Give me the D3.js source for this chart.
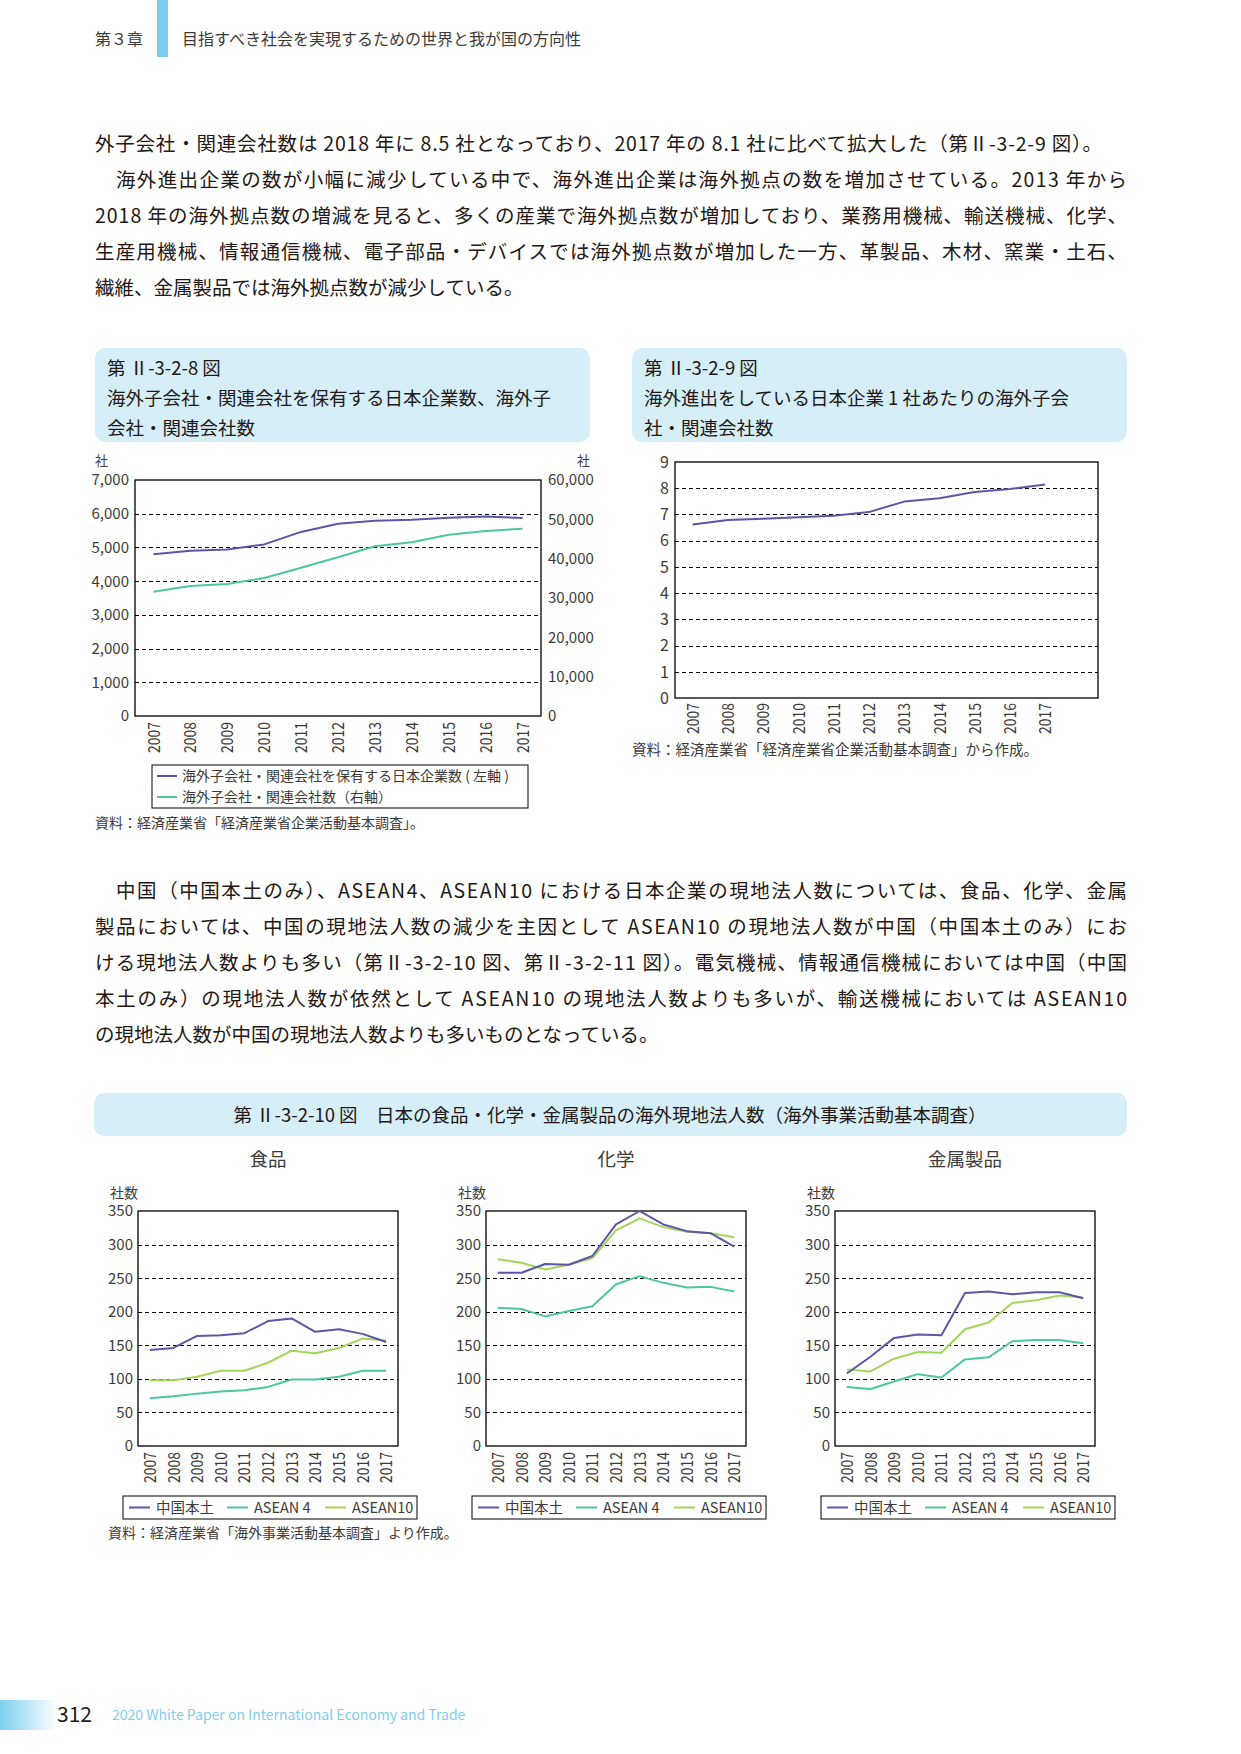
<!DOCTYPE html>
<html>
<head>
<meta charset="utf-8">
<script src="https://cdn.jsdelivr.net/npm/d3@7"></script>
<style>
body { margin: 0; background: #fff; }
svg text { font-family: "Noto Sans CJK JP", "Noto Sans", sans-serif; }
</style>
</head>
<body>
<svg id="page" width="1241" height="1754"></svg>
<script>
// data
var years = [2007, 2008, 2009, 2010, 2011, 2012, 2013, 2014, 2015, 2016, 2017];

// 第II-3-2-8図 (左軸: 企業数, 右軸: 海外子会社・関連会社数)
var fig8Firms = [4800, 4900, 4940, 5090, 5460, 5700, 5790, 5820, 5880, 5920, 5870];
var fig8Affiliates = [31600, 33050, 33560, 35090, 37710, 40340, 43140, 44150, 46100, 47030, 47630];

// 第II-3-2-9図
var fig9PerFirm = [6.62, 6.79, 6.84, 6.89, 6.95, 7.09, 7.49, 7.62, 7.86, 7.97, 8.14];

// 第II-3-2-10図
var foodChina   = [143, 146, 164, 165, 168, 186, 190, 170, 174, 167, 155];
var foodAsean4  = [71, 74, 78, 81, 83, 88, 99, 99, 103, 112, 112];
var foodAsean10 = [98, 98, 103, 112, 112, 124, 142, 138, 146, 160, 157];
var chemChina   = [258, 258, 271, 270, 283, 330, 350, 330, 320, 317, 297];
var chemAsean4  = [206, 204, 193, 201, 208, 241, 253, 243, 236, 237, 230];
var chemAsean10 = [278, 273, 263, 270, 280, 321, 339, 326, 319, 317, 311];
var metalChina   = [108, 133, 161, 166, 165, 228, 230, 226, 229, 229, 220];
var metalAsean4  = [88, 85, 96, 107, 102, 129, 132, 156, 158, 158, 153];
var metalAsean10 = [114, 111, 130, 140, 139, 174, 184, 213, 217, 224, 221];

var seriesNames = ["中国本土", "ASEAN 4", "ASEAN10"];

var purple = "#5b56a6", teal = "#4fc6a2", lime = "#a2d65a";
var ink = "#231815", gray = "#3e3a39";

var svg = d3.select("#page");
svg.append("rect").attr("width", 1241).attr("height", 1754).attr("fill", "#fff");

// header
svg.append("rect").attr("x", 157).attr("y", 0).attr("width", 11).attr("height", 57).attr("fill", "#7ccfee");
svg.append("text").attr("x", 95).attr("y", 45).attr("font-size", 16).attr("fill", gray).text("第３章");
svg.append("text").attr("x", 182).attr("y", 45).attr("font-size", 16).attr("fill", gray)
    .text("目指すべき社会を実現するための世界と我が国の方向性");

// body text
function paragraph(lines, y0) {
    lines.forEach(function(l, i) {
        var t = svg.append("text")
            .attr("x", l.x)
            .attr("y", y0 + i * 36)
            .attr("font-size", 19.5)
            .attr("fill", ink)
            .text(l.t);
        if (l.w) t.attr("textLength", l.w).attr("lengthAdjust", "spacing");
    });
}

paragraph([
    {x: 95, w: 1007, t: "外子会社・関連会社数は 2018 年に 8.5 社となっており、2017 年の 8.1 社に比べて拡大した（第Ⅱ-3-2-9 図）。"},
    {x: 116, w: 1011, t: "海外進出企業の数が小幅に減少している中で、海外進出企業は海外拠点の数を増加させている。2013 年から"},
    {x: 95, w: 1032, t: "2018 年の海外拠点数の増減を見ると、多くの産業で海外拠点数が増加しており、業務用機械、輸送機械、化学、"},
    {x: 95, w: 1032, t: "生産用機械、情報通信機械、電子部品・デバイスでは海外拠点数が増加した一方、革製品、木材、窯業・土石、"},
    {x: 95, t: "繊維、金属製品では海外拠点数が減少している。"}
], 151);

paragraph([
    {x: 116, w: 1011, t: "中国（中国本土のみ）、ASEAN4、ASEAN10 における日本企業の現地法人数については、食品、化学、金属"},
    {x: 95, w: 1032, t: "製品においては、中国の現地法人数の減少を主因として ASEAN10 の現地法人数が中国（中国本土のみ）にお"},
    {x: 95, w: 1032, t: "ける現地法人数よりも多い（第Ⅱ-3-2-10 図、第Ⅱ-3-2-11 図）。電気機械、情報通信機械においては中国（中国"},
    {x: 95, w: 1032, t: "本土のみ）の現地法人数が依然として ASEAN10 の現地法人数よりも多いが、輸送機械においては ASEAN10"},
    {x: 95, t: "の現地法人数が中国の現地法人数よりも多いものとなっている。"}
], 898);

// title boxes
function titleBox(x, y, w, h, lines, tx) {
    svg.append("rect").attr("x", x).attr("y", y).attr("width", w).attr("height", h)
        .attr("rx", 10).attr("fill", "#d5eef8");
    lines.forEach(function(t, i) {
        svg.append("text").attr("x", tx).attr("y", y + 27 + i * 30)
            .attr("font-size", 18.5).attr("fill", ink).text(t);
    });
}
titleBox(95, 348, 495, 94, ["第 Ⅱ-3-2-8 図", "海外子会社・関連会社を保有する日本企業数、海外子", "会社・関連会社数"], 107);
titleBox(632, 348, 495, 94, ["第 Ⅱ-3-2-9 図", "海外進出をしている日本企業 1 社あたりの海外子会", "社・関連会社数"], 644);

svg.append("rect").attr("x", 94).attr("y", 1093).attr("width", 1033).attr("height", 43)
    .attr("rx", 10).attr("fill", "#d5eef8");
svg.append("text").attr("x", 610).attr("y", 1122).attr("text-anchor", "middle")
    .attr("font-size", 18.5).attr("fill", ink)
    .text("第 Ⅱ-3-2-10 図　日本の食品・化学・金属製品の海外現地法人数（海外事業活動基本調査）");

// helpers
function frame(g, x0, x1, y0, y1) {
    g.append("rect").attr("x", x0).attr("y", y0).attr("width", x1 - x0).attr("height", y1 - y0)
        .attr("fill", "none").attr("stroke", "#000").attr("stroke-width", 1.3);
}

function grid(g, y, ticks, x0, x1) {
    g.selectAll(null).data(ticks).enter().append("line")
        .attr("x1", x0).attr("x2", x1)
        .attr("y1", function(d) { return Math.round(y(d)) + 0.5; })
        .attr("y2", function(d) { return Math.round(y(d)) + 0.5; })
        .attr("stroke", "#000").attr("stroke-width", 1).attr("stroke-dasharray", "4,3");
}

function yLabels(g, y, ticks, x, anchor, fmt, size) {
    g.selectAll(null).data(ticks).enter().append("text")
        .attr("x", x).attr("y", function(d) { return y(d); })
        .attr("dy", "0.36em").attr("text-anchor", anchor)
        .attr("font-size", size || 15).attr("fill", gray)
        .text(fmt);
}

function xLabels(g, x, top) {
    g.selectAll(null).data(years).enter().append("text")
        .attr("transform", function(d) { return "translate(" + x(d) + "," + top + ") rotate(-90) scale(0.82,1)"; })
        .attr("dy", "0.36em").attr("text-anchor", "end")
        .attr("font-size", 17).attr("fill", gray)
        .text(function(d) { return d; });
}

function plotLine(g, x, y, vals, color) {
    var line = d3.line()
        .x(function(d, i) { return x(years[i]); })
        .y(function(d) { return y(d); });
    g.append("path").datum(vals).attr("d", line)
        .attr("fill", "none").attr("stroke", color).attr("stroke-width", 2).attr("stroke-linejoin", "round");
}

// 第II-3-2-8図
(function() {
    var g = svg.append("g");
    var x0 = 135, x1 = 541, top = 480, bottom = 716;
    var x = d3.scalePoint().domain(years).range([x0, x1]).padding(0.5);
    var yl = d3.scaleLinear().domain([0, 7000]).range([bottom, top]);
    var yr = d3.scaleLinear().domain([0, 60000]).range([bottom, top]);
    grid(g, yl, d3.range(1000, 7000, 1000), x0, x1);
    frame(g, x0, x1, top, bottom);
    yLabels(g, yl, d3.range(0, 7001, 1000), 129, "end", d3.format(","));
    yLabels(g, yr, d3.range(0, 60001, 10000), 548, "start", d3.format(","));
    g.append("text").attr("x", 95).attr("y", 465).attr("font-size", 13).attr("fill", gray).text("社");
    g.append("text").attr("x", 590).attr("y", 465).attr("text-anchor", "end").attr("font-size", 13).attr("fill", gray).text("社");
    xLabels(g, x, 722);
    plotLine(g, x, yr, fig8Affiliates, teal);
    plotLine(g, x, yl, fig8Firms, purple);

    var lg = g.append("g");
    lg.append("rect").attr("x", 152).attr("y", 765).attr("width", 376).attr("height", 43)
        .attr("fill", "none").attr("stroke", "#000").attr("stroke-width", 1);
    var items = [
        {c: purple, t: "海外子会社・関連会社を保有する日本企業数 ( 左軸 )"},
        {c: teal, t: "海外子会社・関連会社数（右軸）"}
    ];
    items.forEach(function(it, i) {
        var cy = 776 + i * 21;
        lg.append("line").attr("x1", 157).attr("x2", 177).attr("y1", cy).attr("y2", cy)
            .attr("stroke", it.c).attr("stroke-width", 2);
        lg.append("text").attr("x", 182).attr("y", cy).attr("dy", "0.36em")
            .attr("font-size", 14).attr("fill", gray).text(it.t);
    });
    g.append("text").attr("x", 95).attr("y", 828).attr("font-size", 14).attr("fill", gray)
        .text("資料：経済産業省「経済産業省企業活動基本調査」。");
})();

// 第II-3-2-9図
(function() {
    var g = svg.append("g");
    var x0 = 675, x1 = 1098, top = 462, bottom = 698;
    var x = d3.scaleLinear().domain([2006.5, 2018.5]).range([x0, x1]);
    var y = d3.scaleLinear().domain([0, 9]).range([bottom, top]);
    grid(g, y, d3.range(1, 9), x0, x1);
    frame(g, x0, x1, top, bottom);
    yLabels(g, y, d3.range(0, 10), 669, "end", function(d) { return d; }, 16);
    xLabels(g, x, 703);
    plotLine(g, x, y, fig9PerFirm, purple);
    g.append("text").attr("x", 632).attr("y", 755).attr("font-size", 14.5).attr("fill", gray)
        .text("資料：経済産業省「経済産業省企業活動基本調査」から作成。");
})();

// 第II-3-2-10図 small multiples
var panels = [
    {title: "食品", cx: 268, x0: 138, lx: 123, series: [foodChina, foodAsean4, foodAsean10]},
    {title: "化学", cx: 616, x0: 486, lx: 472, series: [chemChina, chemAsean4, chemAsean10]},
    {title: "金属製品", cx: 965, x0: 835, lx: 821, series: [metalChina, metalAsean4, metalAsean10]}
];
var panelColors = [purple, teal, lime];

panels.forEach(function(p) {
    var g = svg.append("g");
    var x0 = p.x0, x1 = p.x0 + 260, top = 1211, bottom = 1446;
    var x = d3.scalePoint().domain(years).range([x0, x1]).padding(0.5);
    var y = d3.scaleLinear().domain([0, 350]).range([bottom, top]);
    g.append("text").attr("x", p.cx).attr("y", 1166).attr("text-anchor", "middle")
        .attr("font-size", 18.5).attr("fill", gray).text(p.title);
    g.append("text").attr("x", x0).attr("y", 1198).attr("text-anchor", "end")
        .attr("font-size", 14).attr("fill", gray).text("社数");
    grid(g, y, d3.range(50, 350, 50), x0, x1);
    frame(g, x0, x1, top, bottom);
    yLabels(g, y, d3.range(0, 351, 50), x0 - 5, "end", function(d) { return d; });
    xLabels(g, x, 1452);
    [2, 1, 0].forEach(function(k) { plotLine(g, x, y, p.series[k], panelColors[k]); });

    var lg = g.append("g").attr("transform", "translate(" + p.lx + ",1496)");
    lg.append("rect").attr("width", 294).attr("height", 23)
        .attr("fill", "none").attr("stroke", "#000").attr("stroke-width", 1);
    var offs = [6, 104, 202];
    seriesNames.forEach(function(n, k) {
        lg.append("line").attr("x1", offs[k]).attr("x2", offs[k] + 21).attr("y1", 11.5).attr("y2", 11.5)
            .attr("stroke", panelColors[k]).attr("stroke-width", 2);
        lg.append("text").attr("x", offs[k] + 27).attr("y", 11.5).attr("dy", "0.36em")
            .attr("font-size", 14.5).attr("fill", gray).text(n);
    });
});

svg.append("text").attr("x", 108).attr("y", 1538).attr("font-size", 14).attr("fill", gray)
    .text("資料：経済産業省「海外事業活動基本調査」より作成。");

// footer
var defs = svg.append("defs");
var grad = defs.append("linearGradient").attr("id", "foot").attr("x1", 0).attr("x2", 1).attr("y1", 0).attr("y2", 0);
grad.append("stop").attr("offset", 0).attr("stop-color", "#7ccfee");
grad.append("stop").attr("offset", 1).attr("stop-color", "#ffffff");
svg.append("rect").attr("x", 0).attr("y", 1700).attr("width", 57).attr("height", 30).attr("fill", "url(#foot)");
svg.append("text").attr("x", 57).attr("y", 1722).attr("font-size", 21).attr("fill", ink).text("312");
svg.append("text").attr("x", 112).attr("y", 1720).attr("font-size", 14).attr("fill", "#7ccfee")
    .text("2020 White Paper on International Economy and Trade");
</script>
</body>
</html>
